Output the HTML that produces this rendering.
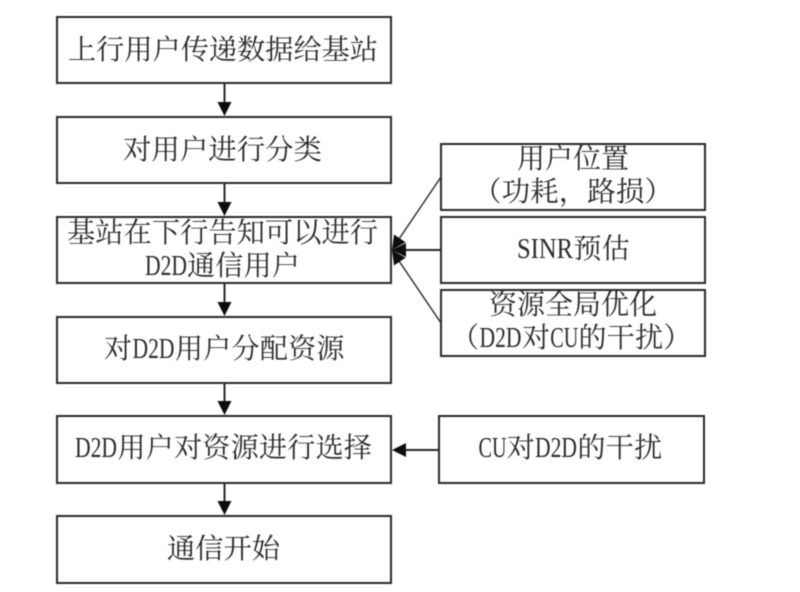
<!DOCTYPE html>
<html lang="zh">
<head>
<meta charset="utf-8">
<title>D2D通信流程</title>
<style>
html,body{margin:0;padding:0;background:#fff;width:800px;height:592px;overflow:hidden}
svg{display:block}
text{font-family:"Liberation Serif","Noto Serif CJK SC",serif;font-size:28px;fill:#2a2a2a}
.b{fill:none;stroke:#2b2b2b;stroke-width:2}
.l{stroke:#2b2b2b;stroke-width:2;fill:none}
.t{stroke:#333;stroke-width:1.5;fill:none}
.h{fill:#111}
.c{letter-spacing:.3px}
</style>
</head>
<body>
<svg width="800" height="592" viewBox="0 0 800 592" xmlns="http://www.w3.org/2000/svg">
<defs>
<filter id="s" x="-5%" y="-5%" width="110%" height="110%"><feGaussianBlur stdDeviation="0.45"/></filter>
<clipPath id="c1"><rect x="442" y="145" width="262" height="64"/></clipPath>
<clipPath id="c2"><rect x="442" y="291" width="262" height="64"/></clipPath>
<clipPath id="c3"><rect x="58" y="218" width="332" height="64"/></clipPath>
</defs>
<rect width="800" height="592" fill="#fff"/>
<g filter="url(#s)">
<!-- main boxes -->
<rect class="b" x="57" y="17" width="334" height="66"/>
<rect class="b" x="57" y="117" width="334" height="66"/>
<rect class="b" x="57" y="217" width="334" height="66"/>
<rect class="b" x="57" y="317" width="334" height="66"/>
<rect class="b" x="57" y="416" width="334" height="67"/>
<rect class="b" x="57" y="516" width="334" height="67"/>
<!-- side boxes -->
<rect class="b" x="441" y="144" width="264" height="66"/>
<rect class="b" x="441" y="217" width="264" height="66"/>
<rect class="b" x="441" y="290" width="264" height="66"/>
<rect class="b" x="439" y="416" width="265" height="67"/>
<!-- vertical arrows -->
<line class="l" x1="224.5" y1="84" x2="224.5" y2="104"/>
<polygon class="h" points="217.5,102 231.5,102 224.5,116"/>
<line class="l" x1="224.5" y1="184" x2="224.5" y2="204"/>
<polygon class="h" points="217.5,202 231.5,202 224.5,216"/>
<line class="l" x1="224.5" y1="284" x2="224.5" y2="304"/>
<polygon class="h" points="217.5,302 231.5,302 224.5,316"/>
<line class="l" x1="224.5" y1="384" x2="224.5" y2="403"/>
<polygon class="h" points="217.5,401 231.5,401 224.5,415"/>
<line class="l" x1="224.5" y1="484" x2="224.5" y2="503"/>
<polygon class="h" points="217.5,501 231.5,501 224.5,515"/>
<!-- left arrow -->
<line class="l" x1="439" y1="450" x2="404" y2="450"/>
<polygon class="h" points="406,443 406,457 392,450"/>
<!-- cluster -->
<line class="t" x1="441" y1="177" x2="399" y2="239"/>
<line class="l" x1="441" y1="250" x2="405" y2="250"/>
<line class="t" x1="441" y1="323" x2="399" y2="261"/>
<path fill="#111" fill-rule="evenodd" d="M392 250L394 234.5L405.6 242.3ZM392 250L406 243L406 257ZM392 250L394 265.5L405.6 257.7Z"/>
<!-- labels -->
<text x="68" y="59" textLength="310" lengthAdjust="spacingAndGlyphs">上行用户传递数据给基站</text>
<text x="123" y="159" textLength="199" lengthAdjust="spacingAndGlyphs">对用户进行分类</text>
<g clip-path="url(#c3)">
<text x="67" y="242" textLength="311" lengthAdjust="spacingAndGlyphs">基站在下行告知可以进行</text>
<text x="145" y="275" textLength="42" lengthAdjust="spacingAndGlyphs">D2D</text>
<text class="c" x="187" y="275">通信用户</text>
</g>
<text class="c" x="104" y="358">对</text>
<text x="132.5" y="358" textLength="42" lengthAdjust="spacingAndGlyphs">D2D</text>
<text class="c" x="175" y="358">用户分配资源</text>
<text x="75" y="457" textLength="42" lengthAdjust="spacingAndGlyphs">D2D</text>
<text class="c" x="117.5" y="457">用户对资源进行选择</text>
<text x="167" y="558" textLength="113" lengthAdjust="spacingAndGlyphs">通信开始</text>
<text x="478.5" y="457" textLength="28" lengthAdjust="spacingAndGlyphs">CU</text>
<text class="c" x="506.8" y="457">对</text>
<text x="535" y="457" textLength="42" lengthAdjust="spacingAndGlyphs">D2D</text>
<text class="c" x="577.5" y="457">的干扰</text>
<g clip-path="url(#c1)">
<text x="517" y="168" textLength="112" lengthAdjust="spacingAndGlyphs">用户位置</text>
<text x="473" y="201" textLength="200" lengthAdjust="spacingAndGlyphs">（功耗，路损）</text>
</g>
<text x="517" y="258" textLength="56" lengthAdjust="spacingAndGlyphs">SINR</text>
<text class="c" x="573.5" y="258">预估</text>
<g clip-path="url(#c2)">
<text x="489" y="314" textLength="168" lengthAdjust="spacingAndGlyphs">资源全局优化</text>
<text x="451" y="347">（</text>
<text x="479.5" y="347" textLength="42" lengthAdjust="spacingAndGlyphs">D2D</text>
<text class="c" x="522" y="347">对</text>
<text x="550.3" y="347" textLength="28" lengthAdjust="spacingAndGlyphs">CU</text>
<text class="c" x="578.5" y="347">的干扰）</text>
</g>
</g>
</svg>
</body>
</html>
